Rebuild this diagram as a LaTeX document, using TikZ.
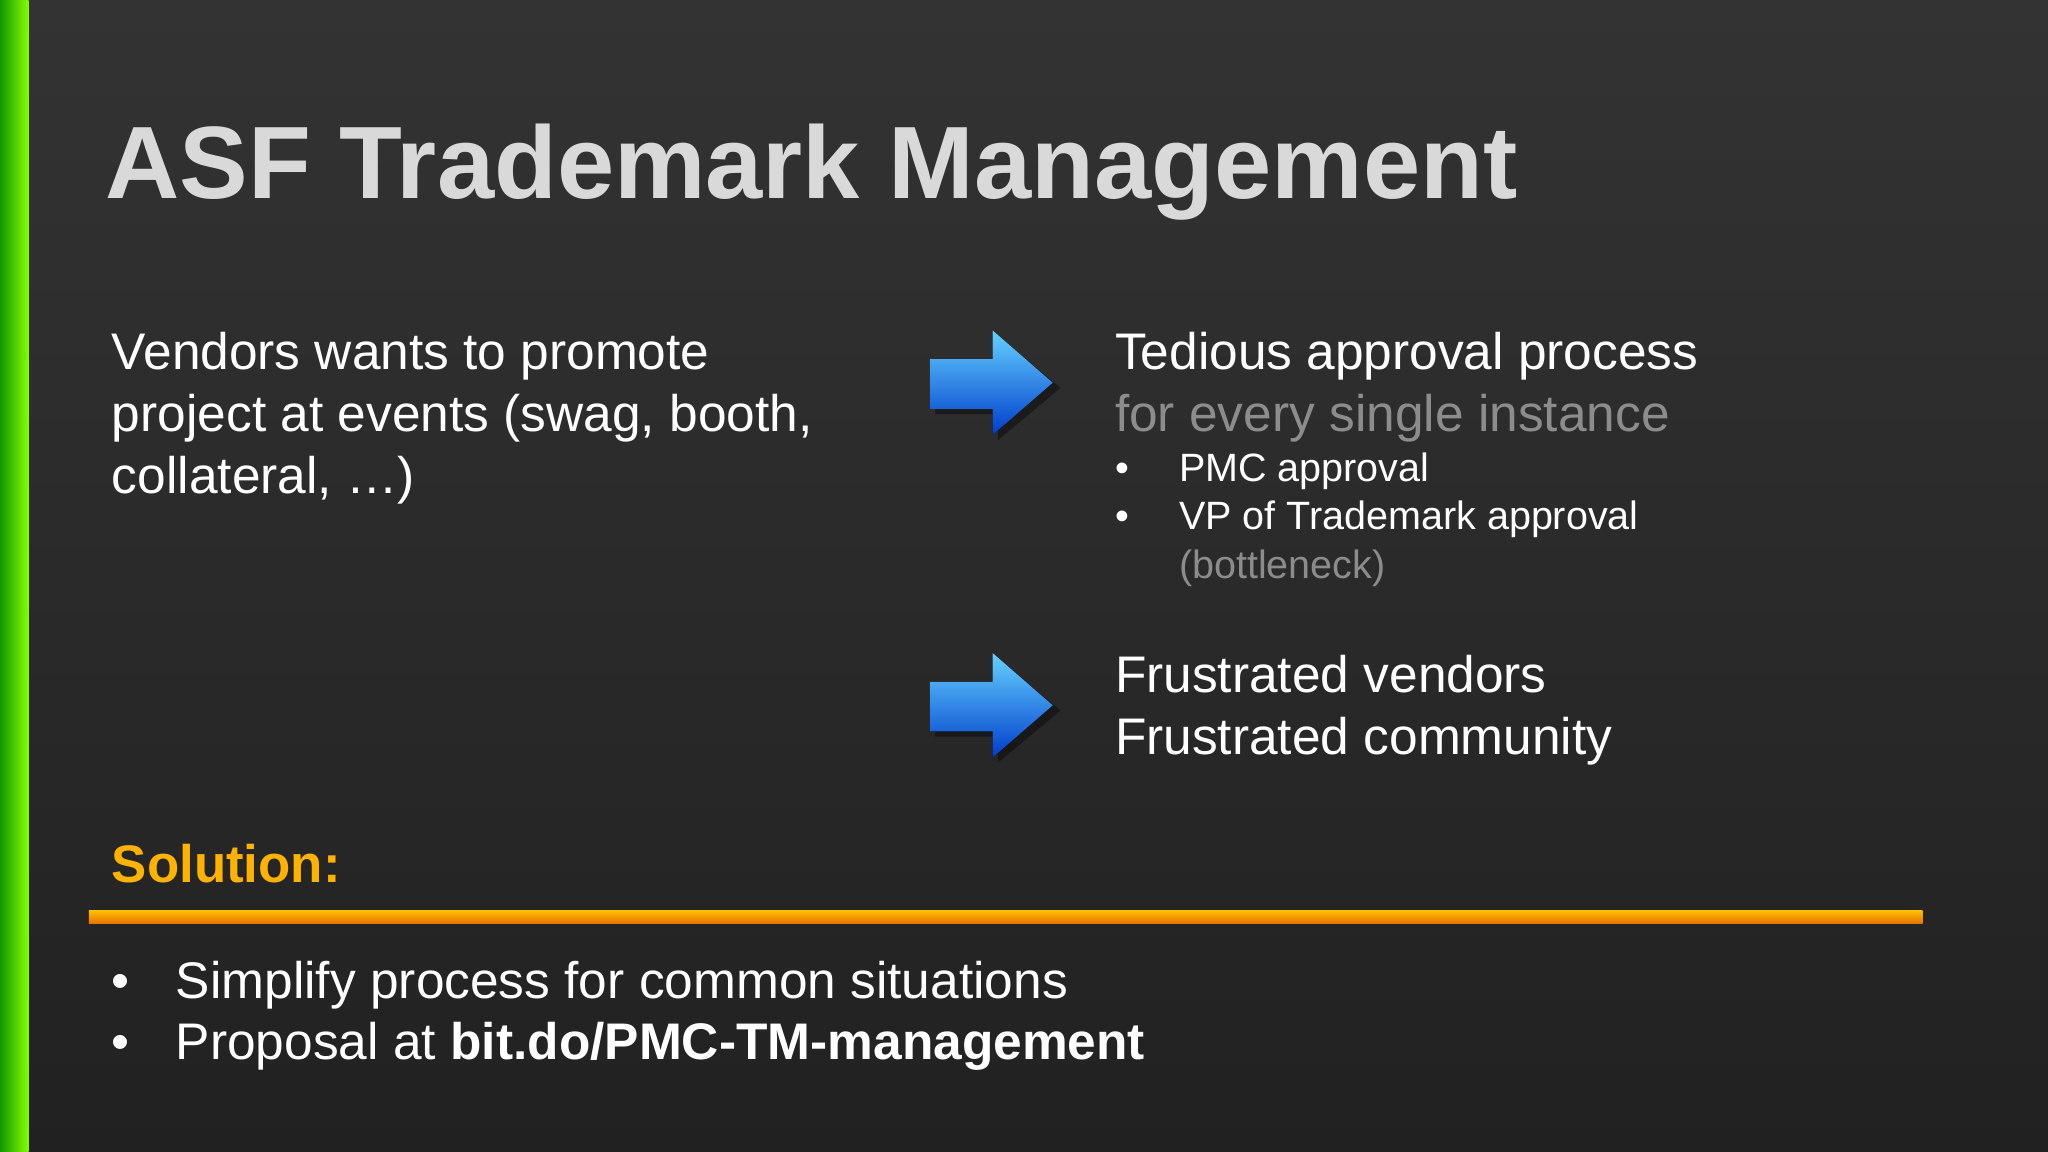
\documentclass[tikz,border=0pt]{standalone}
\usepackage{fontspec}
\setmainfont{Liberation Sans}
\newcommand{\bl}{\makebox[0.49cm][l]{\textbullet}}
\begin{document}
\begin{tikzpicture}[x=0.01cm,y=-0.01cm,
  body/.style={anchor=north west,inner sep=0,text=white,font=\fontsize{11.2}{13.4}\selectfont,align=left},
  sub/.style={anchor=north west,inner sep=0,text=white,font=\fontsize{8.6}{10.5}\selectfont,align=left},
  barrow/.style={top color=cyan!70!blue!60,bottom color=blue!70!cyan!80!black,draw=none}]
\useasboundingbox (0,0) rectangle (1568,882);
\fill[top color=black!80,bottom color=black!87] (0,0) rectangle (1568,882);
\fill[left color=green!55!black!90!lime,right color=lime!70!green] (0,0) rectangle (22,882);
\node[anchor=west,inner sep=0,font=\fontsize{22.4}{26}\selectfont\bfseries,text=black!15] (title) at (80,132) {ASF Trademark Management};
\node[body] (left) at (85,254) {Vendors wants to promote\\project at events (swag, booth,\\collateral, \dots)};
\node[body] (r1) at (853,254) {Tedious approval process\\\textcolor{black!45}{for every single instance}};
\node[sub] (b1) at (853,346) {\bl PMC approval};
\node[sub] (b2) at (853,383) {\bl VP of Trademark approval};
\node[sub,text=black!45] (b3) at (902,420) {(bottleneck)};
\node[body] (r2) at (853,501) {Frustrated vendors\\Frustrated community};
\foreach \y/\n in {293/a1,540/a2}{
  \fill[black,opacity=0.4] (716,\y-14) -- (764,\y-14) -- (764,\y-36) -- (812,\y+4) -- (764,\y+44) -- (764,\y+24) -- (716,\y+24) -- cycle;
  \fill[barrow] (712,\y-18) -- (760,\y-18) -- (760,\y-40) -- (806,\y) -- (760,\y+40) -- (760,\y+20) -- (712,\y+20) -- cycle;
  \coordinate (\n) at (806,\y);
}
\node[anchor=west,inner sep=0,font=\fontsize{11.5}{13}\selectfont\bfseries,text=orange!60!yellow] (sol) at (85,661) {Solution:};
\fill[top color=orange!50!yellow,bottom color=orange!90!black] (68,697) rectangle (1472,707);
\node[body] (s1) at (85,735) {\bl Simplify process for common situations\\\bl Proposal at \textbf{bit.do/PMC-TM-management}};
\end{tikzpicture}
\end{document}
